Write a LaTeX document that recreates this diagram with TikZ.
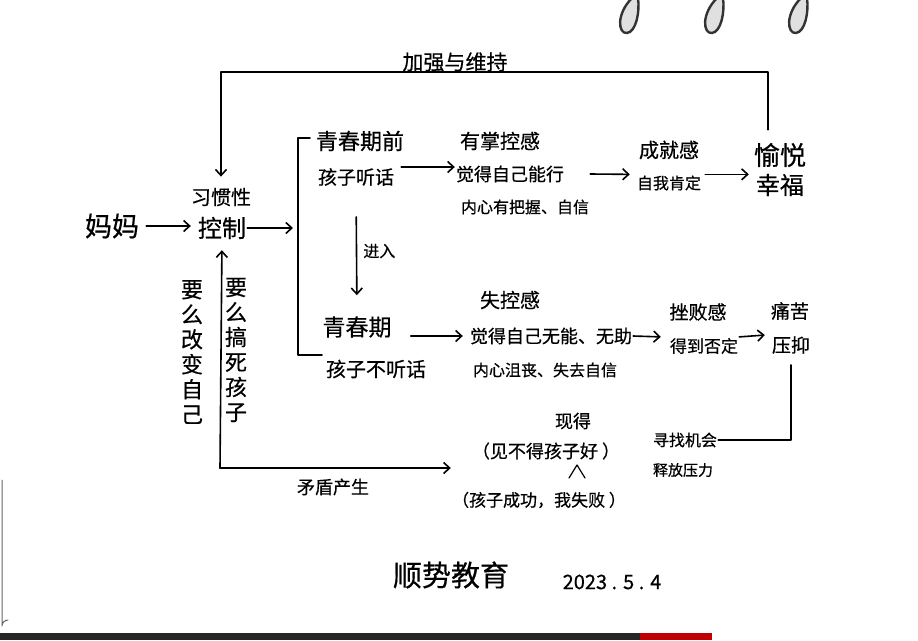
\documentclass[tikz,border=0pt]{standalone}
\usepackage{fontspec}
\setmainfont{Noto Sans CJK SC}[FakeBold=0.5]
\usetikzlibrary{arrows.meta,positioning}
\newcommand\fsz[1]{\fontsize{#1}{#1}\selectfont}
\tikzset{
  lbl/.style={inner sep=1pt, font=\fsz{19}},
  vert/.style={inner sep=1pt, align=center, font=\fontsize{22}{25}\selectfont},
  arr/.style={-{Straight Barb[length=6pt,width=11pt]}, line width=1.6pt},
  ln/.style={line width=1.6pt},
  ring/.style={draw=black!80, fill=black!12, line width=2.4pt}
}

\begin{document}
\begin{tikzpicture}[x=1pt, y=-1pt, line cap=round, line join=round]
  \useasboundingbox[fill=white] (0,0) rectangle (918,640);

  % notebook rings and bottom edge
  \foreach \rx in {632,717,801}
    \draw[ring] (\rx,-2) .. controls (\rx-16,14) and (\rx-14,34) .. (\rx-5,33)
      .. controls (\rx+4,32) and (\rx+8,12) .. (\rx+6,-2);
  \fill[black!85] (0,633) rectangle (712,640);
  \fill[red!75!black] (640,633) rectangle (712,640);
  \draw[black!60, line width=1pt] (2,480) -- (2,626) arc (180:270:6);

  % left part
  \node[lbl, font=\fsz{27}] (mom)    at (112,226) {妈妈};
  \node[lbl, font=\fsz{20}] (habitA) at (221,197) {习惯性};
  \node[lbl, font=\fsz{24}] (habitB) at (222,228) {控制};
  \coordinate (brTop) at (298,138);
  \coordinate (brBot) at (298,355);

  % before adolescence
  \node[lbl, font=\fsz{22}] (preA)  at (360,141) {青春期前};
  \node[lbl]                (preB)  at (356,177) {孩子听话};
  \node[lbl, font=\fsz{20}] (ctrlA) at (500,141) {有掌控感};
  \node[lbl, font=\fsz{18}] (ctrlB) at (510,174) {觉得自己能行};
  \node[lbl, font=\fsz{16}] (ctrlC) at (525,207) {内心有把握、自信};
  \node[lbl, font=\fsz{20}] (achA)  at (669,150) {成就感};
  \node[lbl, font=\fsz{16}] (achB)  at (669,183) {自我肯定};
  \node[lbl, font=\fsz{26}] (happyA) at (780,155) {愉悦};
  \node[lbl, font=\fsz{24}] (happyB) at (780,185) {幸福};

  % adolescence
  \node[lbl, font=\fsz{23}] (teenA) at (357,327) {青春期};
  \node[lbl, font=\fsz{20}] (teenB) at (376,369) {孩子不听话};
  \node[lbl, font=\fsz{20}] (lossA) at (510,300) {失控感};
  \node[lbl, font=\fsz{18}] (lossB) at (551,336) {觉得自己无能、无助};
  \node[lbl, font=\fsz{16}] (lossC) at (545,370) {内心沮丧、失去自信};
  \node[lbl]                (failA) at (698,312) {挫败感};
  \node[lbl, font=\fsz{17}] (failB) at (704,346) {得到否定};
  \node[lbl]                (painA) at (790,311) {痛苦};
  \node[lbl]                (painB) at (791,345) {压抑};

  % conflict
  \node[lbl, font=\fsz{16}] (seekA)   at (685,440) {寻找机会};
  \node[lbl, font=\fsz{15}] (seekB)   at (683,470) {释放压力};
  \node[lbl, font=\fsz{18}] (notgood) at (546,451) {（见不得孩子好 ）};
  \node[lbl, font=\fsz{18}] (insert)  at (573,421) {现得};
  \node[lbl, font=\fsz{17}] (reason)  at (539,500) {（孩子成功，我失败 ）};
  \node[lbl, font=\fsz{18}] (conflict) at (333,487) {矛盾产生};
  \node[vert] (selfv) at (192,352) {要\\么\\改\\变\\自\\己};
  \node[vert] (killv) at (236,350) {要\\么\\搞\\死\\孩\\子};
  \coordinate (corner) at (220,468);
  \coordinate (caret) at (577,465);

  \node[lbl, font=\fsz{21}] (keep)  at (455,62)  {加强与维持};
  \node[lbl, font=\fsz{29}] (title) at (451,575) {顺势教育};
  \node[lbl, font=\fsz{20}] (date)  at (612,582) {2023 . 5 . 4};
  \coordinate (top) at (500,72);

  % connectors
  \draw[arr, shorten <=6pt, shorten >=6pt] (mom.east) -- (mom.east -| habitB.west);
  \draw[arr] (habitB.east) -- ([xshift=-5pt]habitB.east -| brTop);
  \draw[ln] ([xshift=12pt]brTop) -- (brTop) -- (brBot) -- ([xshift=24pt]brBot);
  \draw[arr, shorten <=6pt] (preB.north east) -- (preB.north east -| ctrlB.west);
  \draw[arr] ([xshift=25pt]ctrlB.east) -- ([xshift=-6pt]achB.north west);
  \draw[arr, shorten <=3pt, shorten >=4pt] (achB.north east) -- (achB.north east -| happyA.west);
  \draw[arr, shorten <=30pt, shorten >=20pt] (preB.south) -- (teenA.north)
    node[midway, right=5pt, lbl, font=\fsz{16}] (enter) {进入};
  \draw[arr, shorten >=6pt] ([xshift=18pt]teenA.east |- lossB.west) -- (lossB.west);
  \draw[arr] (lossB.east) -- ([xshift=-8pt]failB.north west);
  \draw[arr] (failB.north east) -- ([xshift=-6pt]painB.north west);
  \draw[ln] ([yshift=-10pt]painB.south) |- (seekA.east);
  \draw[arr, shorten <=12pt, shorten >=10pt] ([xshift=-12pt]happyA.north) |- (top) -| (habitA.north);
  \draw[arr, shorten >=10pt] (corner) -- (habitB.south);
  \draw[arr, shorten >=20pt] (corner) -- (corner -| notgood.west);
  \draw[ln, line width=1.2pt] ([xshift=-8pt,yshift=-13pt]caret) -- (caret) -- ([xshift=8pt,yshift=-13pt]caret);
\end{tikzpicture}
\end{document}
